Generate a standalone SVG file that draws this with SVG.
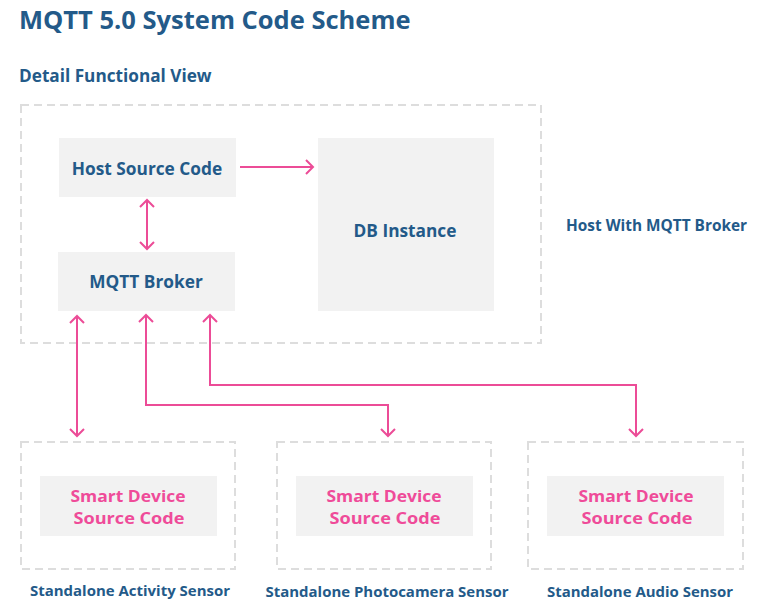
<svg xmlns="http://www.w3.org/2000/svg" width="765" height="610" viewBox="0 0 765 610">
<style>
.t{font-family:"Open Sans","Noto Sans",sans-serif;font-weight:700;fill:#235a89}
.box{fill:#f2f2f2}
.dash{fill:none;stroke:#dddddd;stroke-width:2;stroke-dasharray:8,5}
.c{fill:none;stroke:#ec4c97;stroke-width:2}
.p{font-family:"Open Sans","Noto Sans",sans-serif;font-weight:700;fill:#ef4b99;font-size:16px}
.lbl{font-family:"Open Sans","Noto Sans",sans-serif;font-weight:700;fill:#235a89;font-size:14px}
</style>
<defs>
<marker id="ah" markerUnits="userSpaceOnUse" markerWidth="16" markerHeight="16" refX="8" refY="8" orient="auto-start-reverse" viewBox="0 0 16 16">
<path d="M1,1 L8,8 L1,15" fill="none" stroke="#ec4c97" stroke-width="2"/>
</marker>
</defs>
<rect width="765" height="610" fill="#ffffff"/>
<text class="t" x="19" y="29" font-size="25.5">MQTT 5.0 System Code Scheme</text>
<text class="t" x="19" y="82" font-size="17.2">Detail Functional View</text>

<g id="host">
<rect class="dash" x="21" y="105" width="520" height="238"/>
<text class="t" x="566" y="231" font-size="15.4">Host With MQTT Broker</text>
</g>
<g id="hostsrc">
<rect class="box" x="59" y="138" width="177" height="59"/>
<text class="t" x="147" y="175" font-size="17.3" text-anchor="middle">Host Source Code</text>
</g>
<g id="db">
<rect class="box" x="318" y="138" width="176" height="173"/>
<text class="t" x="405" y="237" font-size="17.3" text-anchor="middle">DB Instance</text>
</g>
<g id="broker">
<rect class="box" x="58" y="252" width="177" height="59"/>
<text class="t" x="146" y="288" font-size="17.3" text-anchor="middle">MQTT Broker</text>
</g>

<g id="activity">
<rect class="dash" x="21" y="442" width="214" height="127"/>
<rect class="box" x="40" y="476" width="177" height="60"/>
<text class="p" x="128" y="502" text-anchor="middle" textLength="115" lengthAdjust="spacingAndGlyphs">Smart Device</text>
<text class="p" x="129" y="524" text-anchor="middle" textLength="111" lengthAdjust="spacingAndGlyphs">Source Code</text>
<text class="lbl" x="130" y="596" text-anchor="middle" textLength="200" lengthAdjust="spacingAndGlyphs">Standalone Activity Sensor</text>
</g>
<g id="photo">
<rect class="dash" x="277" y="442" width="214" height="127"/>
<rect class="box" x="296" y="476" width="177" height="60"/>
<text class="p" x="384" y="502" text-anchor="middle" textLength="115" lengthAdjust="spacingAndGlyphs">Smart Device</text>
<text class="p" x="385" y="524" text-anchor="middle" textLength="111" lengthAdjust="spacingAndGlyphs">Source Code</text>
<text class="lbl" x="387" y="597" text-anchor="middle" textLength="243" lengthAdjust="spacingAndGlyphs">Standalone Photocamera Sensor</text>
</g>
<g id="audio">
<rect class="dash" x="528" y="442" width="215" height="127"/>
<rect class="box" x="547" y="476" width="177" height="60"/>
<text class="p" x="636" y="502" text-anchor="middle" textLength="115" lengthAdjust="spacingAndGlyphs">Smart Device</text>
<text class="p" x="637" y="524" text-anchor="middle" textLength="111" lengthAdjust="spacingAndGlyphs">Source Code</text>
<text class="lbl" x="640" y="597" text-anchor="middle" textLength="186" lengthAdjust="spacingAndGlyphs">Standalone Audio Sensor</text>
</g>

<g id="connectors">
<path class="c" d="M240,167 H313" marker-end="url(#ah)"/>
<path class="c" d="M147,200 V249" marker-start="url(#ah)" marker-end="url(#ah)"/>
<path class="c" d="M77,316 V436" marker-start="url(#ah)" marker-end="url(#ah)"/>
<path class="c" d="M146,315 V405 H388 V436" marker-start="url(#ah)" marker-end="url(#ah)"/>
<path class="c" d="M210,315 V385 H636 V436" marker-start="url(#ah)" marker-end="url(#ah)"/>
</g>
</svg>
